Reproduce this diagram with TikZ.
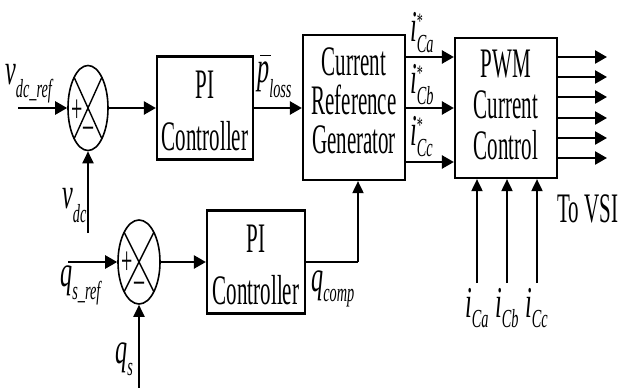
\documentclass[tikz,border=0pt]{standalone}
\usepackage{fontspec}
\setmainfont{Liberation Serif}[FakeStretch=0.5]
\newfontfamily\lblfont{Liberation Serif}[FakeStretch=0.55]
\usetikzlibrary{shapes.geometric,arrows.meta}
\newcommand\mainl[1]{{\lblfont\fontsize{44}{44}\selectfont\itshape #1}}
\newcommand\subl[2][10pt]{\raisebox{-#1}{\lblfont\fontsize{26}{26}\selectfont\itshape #2}}
\newcommand\starsub[2][10pt]{\makebox[0pt][l]{\raisebox{13pt}{\lblfont\fontsize{22}{22}\selectfont *}}\subl[#1]{#2}}
\tikzset{
  blk/.style={draw, line width=2.2pt, rectangle, inner sep=0pt},
  txt/.style={inner sep=0pt, anchor=base, font=\fontsize{42}{42}\selectfont},
  sumj/.style={draw, line width=1.6pt, ellipse, inner sep=0pt, minimum width=40pt, minimum height=85pt},
  arr/.style={line width=2.4pt, -{Triangle[length=12pt,width=13pt]}},
  varr/.style={line width=1.9pt, -{Triangle[length=12pt,width=11pt]}},
  crs/.style={line width=1.4pt},
  sgn/.style={inner sep=0pt, font=\fontsize{40}{40}\selectfont},
  lbl/.style={inner sep=0pt, anchor=base west}
}
\begin{document}
\begin{tikzpicture}[x=1pt,y=-1pt]
\useasboundingbox (0,0) rectangle (621,388);
% summing junctions
\node[sumj] (s1) at (88,108) {};
\node[sumj, minimum width=42pt, minimum height=84pt] (s2) at (139,262) {};
\draw[crs] (s1.center) ++(-14,-31) -- ++(28,62);
\draw[crs] (s1.center) ++(14,-31) -- ++(-28,62);
\draw[crs] (s2.center) ++(-15,-30) -- ++(30,60);
\draw[crs] (s2.center) ++(15,-30) -- ++(-30,60);
\node[sgn] (p1) at (77,111) {+};
\node[sgn] (m1) at (88,132) {\textendash};
\node[sgn] (p2) at (127,263) {+};
\node[sgn] (m2) at (139,287) {\textendash};
% blocks
\node[blk, minimum width=96pt, minimum height=103pt] (pi1) at (205,108) {};
\node[blk, minimum width=98pt, minimum height=103pt] (pi2) at (256,262) {};
\node[blk, minimum width=102pt, minimum height=145pt] (crg) at (354,107.5) {};
\node[blk, minimum width=102pt, minimum height=140pt] (pwm) at (506,108) {};
% block texts
\node[txt] (t1a) at (205,98) {PI};
\node[txt] (t1b) at (205,150) {Controller};
\node[txt] (t2a) at (256,252) {PI};
\node[txt] (t2b) at (256,304) {Controller};
\node[txt] (t3a) at (354,75) {Current};
\node[txt] (t3b) at (354,114) {Reference};
\node[txt] (t3c) at (354,153) {Generator};
\node[txt] (t4a) at (506,77) {PWM};
\node[txt] (t4b) at (506,118) {Current};
\node[txt] (t4c) at (506,159) {Control};
% coordinates
\coordinate (in1) at (18,108);
\coordinate (vdc) at (88,233);
\coordinate (in2) at (68,262);
\coordinate (qs) at (139,388);
\coordinate (qc) at (358,262);
% connections
\draw[arr] (in1) -- (s1.west);
\draw[varr] (vdc) -- (s1.south);
\draw[arr] (s1.east) -- (pi1.west);
\draw[arr] (pi1.east) -- (pi1.east -| crg.west);
\draw[arr] (in2) -- (s2.west);
\draw[varr] (qs) -- (s2.south);
\draw[arr] (s2.east) -- (pi2.west);
\draw[line width=2.4pt] (pi2.east) -- (qc);
\draw[varr] (qc) -- (qc |- crg.south);
\foreach \y/\n in {57/a,108/b,162/c}{
  \coordinate (c\n) at (405,\y);
  \draw[arr] (c\n) -- (c\n -| pwm.west);
}
\foreach \y [count=\k] in {57,77,97,118,138,158}{
  \coordinate (o\k) at (607,\y);
  \draw[arr] (o\k -| pwm.east) -- (o\k);
}
\foreach \x/\n in {477/a,507/b,537/c}{
  \coordinate (b\n) at (\x,283);
  \draw[varr] (b\n) -- (b\n |- pwm.south);
}
% labels
\node[lbl] (lvref) at (5,84) {\mainl{v}\subl[13pt]{dc\_ref}};
\node[lbl] (lvdc) at (62,208) {\mainl{v}\subl[14pt]{dc}};
\node[lbl] (lqref) at (60,286) {\mainl{q}\subl[13pt]{s\_ref}};
\node[lbl] (lqs) at (115,363) {\mainl{q}\subl[12pt]{s}};
\node[lbl] (lpl) at (257,82) {\makebox[0pt][l]{\hspace{3pt}\raisebox{26pt}{\rule{11pt}{1.5pt}}}\mainl{p}\subl[15pt]{loss}};
\node[lbl] (lqc) at (311,291) {\mainl{q}\subl[10pt]{comp}};
\node[lbl] (lca) at (410,41) {\mainl{i}\starsub[11pt]{Ca}};
\node[lbl] (lcb) at (410,93) {\mainl{i}\starsub[11pt]{Cb}};
\node[lbl] (lcc) at (410,145) {\mainl{i}\starsub[11pt]{Cc}};
\node[lbl] (la) at (465,317) {\mainl{i}\subl[10pt]{Ca}};
\node[lbl] (lb) at (495,317) {\mainl{i}\subl[10pt]{Cb}};
\node[lbl] (lc) at (525,317) {\mainl{i}\subl[10pt]{Cc}};
\node[inner sep=0pt, anchor=base west, font=\fontsize{42}{42}\selectfont] (vsi) at (557,222) {To VSI};
\end{tikzpicture}
\end{document}
